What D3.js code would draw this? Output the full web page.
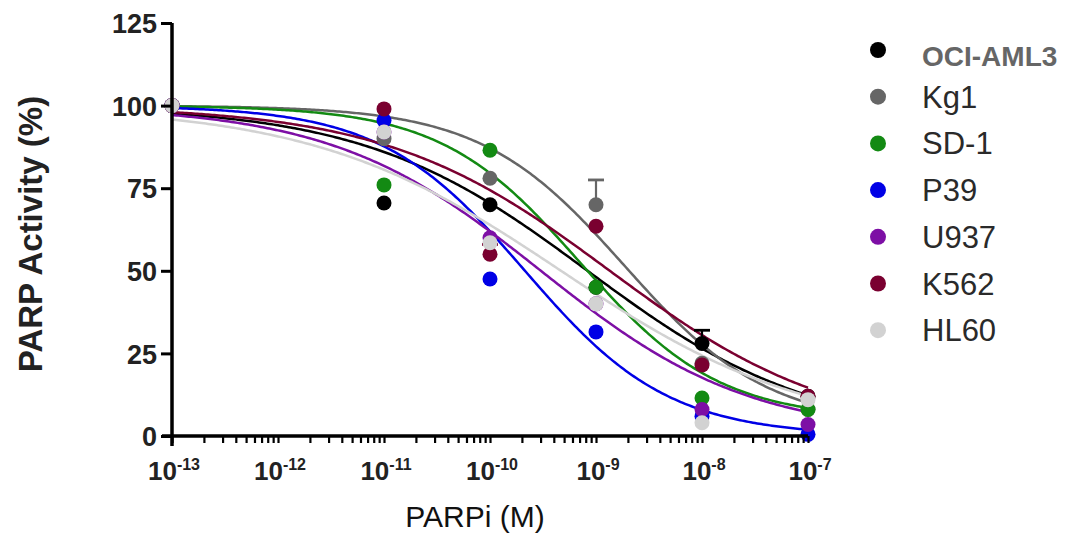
<!DOCTYPE html>
<html>
<head>
<meta charset="utf-8">
<script src="https://cdn.jsdelivr.net/npm/d3@7"></script>
<style>
  body { margin: 0; background: #fff; }
  svg { display: block; font-family: Arial, "Liberation Sans", sans-serif; }
</style>
</head>
<body>
<div id="chart"></div>
<script>
// dose exponents (log10 M)
const doses = [-13, -11, -10, -9, -8, -7];
const xTickExps = [-13, -12, -11, -10, -9, -8, -7];
const yTicks = [0, 25, 50, 75, 100, 125];

const cellLines = ['OCI-AML3', 'Kg1', 'SD-1', 'P39', 'U937', 'K562', 'HL60'];
const colors = ['#000000', '#666666', '#138a13', '#0000e6', '#7d0fa5', '#7a0030', '#d2d2d2'];

// measured PARP activity (%)
const ociAml3 = [100, 70.5, 70, 45, 28, 12];
const kg1 = [100, 90, 78, 70, 22, 8];
const sd1 = [100, 76, 86.5, 45, 11.5, 8];
const p39 = [100, 95.5, 47.5, 31.5, 6, 0.5];
const u937 = [100, 92, 60, 40, 8, 3.5];
const k562 = [100, 99, 55, 63.5, 21.5, 12];
const hl60 = [100, 92, 58.5, 40, 4, 11];

// SEM (only a few visible above the dots)
const ociAml3Err = [0, 0, 0, 0, 4, 0];
const kg1Err = [0, 0, 0, 7.5, 0, 0];
const k562Err = [0, 0, 3, 0, 0, 0];
const noErr = [0, 0, 0, 0, 0, 0];

// fitted curve parameters: top, bottom, logIC50, hill
const fitTop = [100, 100, 100, 100, 100, 100, 100];
const fitBottom = [0, 3, 5, 0, 0, 0, 0];
const fitLogIC50 = [-9.08, -8.73, -9.15, -9.67, -9.52, -8.87, -9.33];
const fitHill = [0.41, 0.64, 0.66, 0.64, 0.44, 0.41, 0.37];

const values = [ociAml3, kg1, sd1, p39, u937, k562, hl60];
const errors = [ociAml3Err, kg1Err, noErr, noErr, noErr, k562Err, noErr];

const series = cellLines.map((name, i) => ({
  name,
  color: colors[i],
  points: doses.map((d, j) => ({ logx: d, y: values[i][j], err: errors[i][j] })),
  fit: { top: fitTop[i], bottom: fitBottom[i], c: fitLogIC50[i], h: fitHill[i] }
}));

const width = 1079, height = 539;
const x = d3.scaleLog().domain([1e-13, 1e-7]).range([172, 808]);
const y = d3.scaleLinear().domain([0, 125]).range([436, 23]);

const svg = d3.select('#chart').append('svg')
  .attr('width', width)
  .attr('height', height);

// curves
const curveX = d3.range(-13, -6.99, 0.02);
const line = d3.line()
  .x(d => x(Math.pow(10, d[0])))
  .y(d => y(d[1]));

const gCurves = svg.append('g');
series.forEach(s => {
  const f = s.fit;
  const pts = curveX.map(lx => [lx, f.bottom + (f.top - f.bottom) / (1 + Math.pow(10, (lx - f.c) * f.h))]);
  gCurves.append('path')
    .datum(pts)
    .attr('d', line)
    .attr('fill', 'none')
    .attr('stroke', s.color)
    .attr('stroke-width', 2.5);
});

// points + error bars
const gPts = svg.append('g');
series.forEach(s => {
  const g = gPts.append('g');
  s.points.filter(p => p.err > 0).forEach(p => {
    const cx = x(Math.pow(10, p.logx));
    g.append('line')
      .attr('x1', cx).attr('x2', cx)
      .attr('y1', y(p.y)).attr('y2', y(p.y + p.err))
      .attr('stroke', s.color).attr('stroke-width', 2.2);
    g.append('line')
      .attr('x1', cx - 8).attr('x2', cx + 8)
      .attr('y1', y(p.y + p.err)).attr('y2', y(p.y + p.err))
      .attr('stroke', s.color).attr('stroke-width', 2.8);
  });
  g.selectAll('circle')
    .data(s.points)
    .join('circle')
    .attr('cx', d => x(Math.pow(10, d.logx)))
    .attr('cy', d => y(d.y))
    .attr('r', 7.5)
    .attr('fill', s.color);
});

// y axis
const yAxis = svg.append('g')
  .attr('transform', `translate(${x(1e-13)},0)`)
  .call(d3.axisLeft(y).tickValues(yTicks).tickSize(11).tickSizeOuter(0).tickPadding(4));
yAxis.select('.domain').attr('stroke-width', 3.5).attr('d', `M0,${y(125)}V${y(0) + 10}`);
yAxis.selectAll('.tick line').attr('stroke-width', 3);
yAxis.selectAll('.tick text')
  .attr('font-size', 27).attr('font-weight', 'bold').attr('fill', '#222')
  .attr('dy', '0.36em');

// x axis with minor ticks
const xMinor = [];
xTickExps.forEach(e => {
  xMinor.push(Math.pow(10, e));
  if (e < -7) for (let m = 2; m <= 9; m++) xMinor.push(m * Math.pow(10, e));
});
const xAxis = svg.append('g')
  .attr('transform', `translate(0,${y(0)})`)
  .call(d3.axisBottom(x).tickValues(xMinor).tickSize(7).tickSizeOuter(0).tickFormat(''));
xAxis.select('.domain').attr('stroke-width', 3.5).attr('d', `M${x(1e-13) - 10},0H${x(1e-7)}`);
xAxis.selectAll('.tick line').attr('stroke-width', 2.2);

const xLabels = svg.append('g');
xTickExps.forEach(e => {
  const t = xLabels.append('text')
    .attr('x', x(Math.pow(10, e)) + 2)
    .attr('y', 480)
    .attr('text-anchor', 'middle')
    .attr('font-weight', 'bold')
    .attr('fill', '#222');
  t.append('tspan').attr('font-size', 26).text('10');
  t.append('tspan').attr('font-size', 16).attr('dy', -10).text('-' + Math.abs(e));
});

// axis titles
svg.append('text')
  .attr('transform', 'translate(42,234) rotate(-90)')
  .attr('text-anchor', 'middle')
  .attr('font-size', 33)
  .attr('font-weight', 'bold')
  .attr('fill', '#222')
  .text('PARP Activity (%)');

svg.append('text')
  .attr('x', 475).attr('y', 527)
  .attr('text-anchor', 'middle')
  .attr('font-size', 30)
  .attr('fill', '#111')
  .text('PARPi (M)');

// legend
const legend = svg.append('g');
series.forEach((s, i) => {
  const ly = 50 + i * 46.7;
  legend.append('circle').attr('cx', 878).attr('cy', ly).attr('r', 8).attr('fill', s.color);
  legend.append('text')
    .attr('x', 922).attr('y', i === 0 ? ly + 16 : ly + 11)
    .attr('font-size', i === 0 ? 28 : 31)
    .attr('font-weight', i === 0 ? 'bold' : 'normal')
    .attr('fill', i === 0 ? '#666' : '#2a2a2a')
    .text(s.name);
});
</script>
</body>
</html>
